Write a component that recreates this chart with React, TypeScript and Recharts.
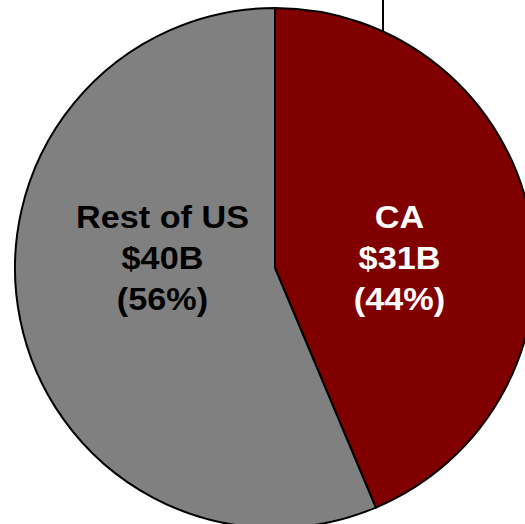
import React from 'react';
import { PieChart, Pie, Cell, Customized } from 'recharts';

const regions = ['CA', 'Rest of US'];
const spending = [31, 40];
const shares = [44, 56];
const colors = ['#800000', '#808080'];
const labelColors = ['#FFFFFF', '#000000'];

const data = regions.map((name, i) => ({
  name,
  value: spending[i],
  share: shares[i],
}));

const RADIAN = Math.PI / 180;

const renderLabel = ({ cx, cy, midAngle, outerRadius, index }: any) => {
  const r = outerRadius * 0.465;
  const x = cx + r * Math.cos(-midAngle * RADIAN) + 6;
  const entry = data[index];
  const lines = [entry.name, `$${entry.value}B`, `(${entry.share}%)`];
  return (
    <g transform={`translate(${x},${cy - 40}) scale(1.07,1)`}>
      {lines.map((t, i) => (
        <text
          key={i}
          x={0}
          y={i * 41}
          textAnchor="middle"
          fill={labelColors[index]}
          fontFamily="'Liberation Sans', Arial, sans-serif"
          fontWeight="bold"
          fontSize={32}
        >
          {t}
        </text>
      ))}
    </g>
  );
};

export default function App() {
  return (
    <div style={{ position: 'absolute', left: 0, top: 0, width: 525, height: 524, background: '#fff' }}>
      <PieChart width={525} height={524} margin={{ top: 0, right: 0, bottom: 0, left: 0 }}>
        <Pie
          data={data}
          dataKey="value"
          cx={275}
          cy={268}
          outerRadius={260}
          startAngle={90}
          endAngle={-270}
          stroke="#000"
          strokeWidth={2}
          labelLine={false}
          label={renderLabel}
          isAnimationActive={false}
        >
          {data.map((entry, index) => (
            <Cell key={`cell-${index}`} fill={colors[index]} />
          ))}
        </Pie>
        <Customized component={() => <line x1={383} y1={0} x2={383} y2={47} stroke="#000" strokeWidth={2} />} />
      </PieChart>
    </div>
  );
}
